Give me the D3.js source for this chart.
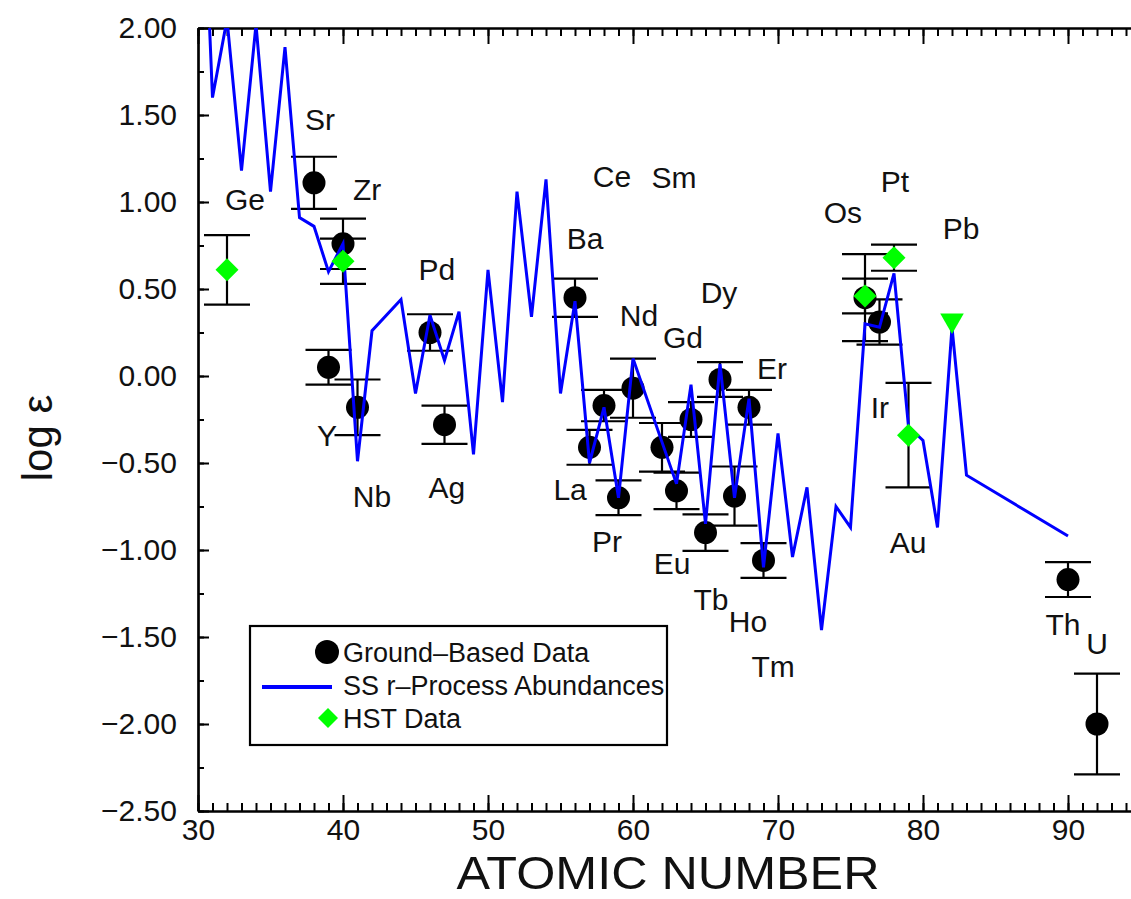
<!DOCTYPE html>
<html>
<head>
<meta charset="utf-8">
<script src="https://cdn.jsdelivr.net/npm/d3@7"></script>
<style>
  html, body { margin: 0; padding: 0; background: #fff; }
  svg { display: block; font-family: "Liberation Sans", Arial, Helvetica, sans-serif; }
</style>
</head>
<body>
<svg id="chart" width="1131" height="899"></svg>
<script>
// ---------- DATA ----------
// Solar-system r-process abundance curve (atomic number, log eps)
const lineZ = [30,31,32,33,34,35,36,37,38,39,40,41,42,
               44,45,46,47,48,49,50,51,52,53,54,55,56,57,58,59,60,
               62,63,64,65,66,67,68,69,70,71,72,73,74,75,76,77,78,79,80,81,82,83,
               90];
const lineV = [3.6,1.60,2.05,1.18,2.02,1.06,1.89,0.91,0.86,0.60,0.76,-0.49,0.26,
               0.44,-0.10,0.35,0.09,0.37,-0.45,0.61,-0.15,1.06,0.34,1.13,-0.10,0.43,-0.50,-0.18,-0.70,0.10,
               -0.38,-0.62,-0.05,-0.85,0.07,-0.70,-0.13,-1.10,-0.33,-1.04,-0.64,-1.46,-0.75,-0.87,0.30,0.28,0.59,-0.29,-0.37,-0.87,0.28,-0.57,
               -0.92];

// Ground-based data
const gbZ   = [38,39,40,41,46,47,56,57,58,59,60,62,63,64,65,66,67,68,69,76,77,90,92];
const gbV   = [1.11,0.05,0.76,-0.18,0.25,-0.28,0.45,-0.41,-0.17,-0.70,-0.07,-0.41,-0.66,-0.25,-0.90,-0.02,-0.69,-0.18,-1.06,0.45,0.31,-1.17,-2.00];
const gbErr = [0.15,0.10,0.145,0.16,0.105,0.11,0.11,0.10,0.09,0.10,0.17,0.14,0.105,0.10,0.105,0.10,0.17,0.10,0.10,0.25,0.13,0.10,0.29];

// HST data
const hstZ   = [32,40,76,78,79];
const hstV   = [0.61,0.66,0.46,0.68,-0.34];
const hstErr = [0.20,0.13,0.10,0.075,0.30];
// HST upper limit (Pb)
const hstLimZ = [82];
const hstLimV = [0.32];

// Element name annotations (position in data coordinates: Z, log eps of text baseline)
const labelText = ["Ge","Sr","Zr","Y","Nb","Pd","Ag","Ce","Sm","Ba","Nd","Gd","Dy","Er","La","Pr","Eu","Tb","Ho","Tm","Os","Pt","Pb","Ir","Au","Th","U"];
const labelZ    = [33.24,38.41,41.66,38.9,42.0,46.48,47.17,58.55,62.83,56.69,60.41,63.45,65.93,69.59,55.66,58.21,62.69,65.38,67.93,69.66,74.48,78.07,82.62,77.03,78.97,89.66,92.0];
const labelV    = [0.954,1.414,1.01,-0.40,-0.75,0.55,-0.70,1.086,1.08,0.73,0.29,0.16,0.42,-0.02,-0.71,-1.01,-1.14,-1.345,-1.47,-1.73,0.88,1.06,0.79,-0.24,-1.02,-1.49,-1.60];

// Axis ticks
const xMajorTicks = [30,40,50,60,70,80,90];
const yMajorTicks = [-2.5,-2,-1.5,-1,-0.5,0,0.5,1,1.5,2];

const legendItems = ["Ground\u2013Based Data","SS r\u2013Process Abundances","HST Data"];

// ---------- CHART ----------
const svg = d3.select("#chart");
svg.append("rect").attr("width",1131).attr("height",899).attr("fill","#fff");

const x = d3.scaleLinear().domain([30,95]).range([198,1140.5]);
const y = d3.scaleLinear().domain([-2.5,2]).range([811,28]);

const FONT = '"Liberation Sans", Arial, Helvetica, sans-serif';

// clip path
svg.append("defs").append("clipPath").attr("id","plotclip")
  .append("rect").attr("x",198).attr("y",28).attr("width",1131-198).attr("height",811-28);

// Axes
function styleAxis(g){
  g.selectAll("path.domain").attr("stroke","#000").attr("stroke-width",2.2);
  g.selectAll(".tick line").attr("stroke","#000").attr("stroke-width",2);
}
// bottom minor
svg.append("g").attr("transform","translate(0,811)")
  .call(d3.axisBottom(x).tickValues(d3.range(30,96,1)).tickSize(-8).tickSizeOuter(0).tickFormat(""))
  .call(styleAxis);
// bottom major
svg.append("g").attr("transform","translate(0,811)")
  .call(d3.axisBottom(x).tickValues(xMajorTicks).tickSize(-16).tickSizeOuter(0).tickPadding(8).tickFormat(d3.format("d")))
  .call(styleAxis)
  .call(g => g.selectAll("text").attr("font-size",30).attr("font-family",FONT).attr("fill","#111"));
// top minor + major
svg.append("g").attr("transform","translate(0,28)")
  .call(d3.axisTop(x).tickValues(d3.range(30,96,1)).tickSize(-8).tickSizeOuter(0).tickFormat(""))
  .call(styleAxis);
svg.append("g").attr("transform","translate(0,28)")
  .call(d3.axisTop(x).tickValues(xMajorTicks).tickSize(-16).tickSizeOuter(0).tickFormat(""))
  .call(styleAxis);
// left minor
svg.append("g").attr("transform","translate(198,0)")
  .call(d3.axisLeft(y).tickValues(d3.range(-2.5,2.01,0.25)).tickSize(-6).tickSizeOuter(0).tickFormat(""))
  .call(styleAxis);
// left major
svg.append("g").attr("transform","translate(198,0)")
  .call(d3.axisLeft(y).tickValues(yMajorTicks).tickSize(-11).tickSizeOuter(0).tickPadding(21).tickFormat(d3.format(".2f")))
  .call(styleAxis)
  .call(g => g.selectAll("text").attr("font-size",30).attr("font-family",FONT).attr("fill","#111"));

// Axis titles
svg.append("text").attr("x",668).attr("y",889).attr("text-anchor","middle")
  .attr("font-size",46).attr("font-family",FONT).attr("fill","#111")
  .attr("textLength",423).attr("lengthAdjust","spacingAndGlyphs")
  .text("ATOMIC NUMBER");
svg.append("text").attr("transform","translate(52,438) rotate(-90)").attr("text-anchor","middle")
  .attr("font-size",42).attr("font-family",FONT).attr("fill","#111").text("log \u03b5");

const capW = 23;
function errorBars(Z, V, E){
  const g = svg.append("g").attr("stroke","#000").attr("stroke-width",2.2).attr("fill","none");
  Z.forEach((z,i)=>{
    const cx = x(z), top = y(V[i]+E[i]), bot = y(V[i]-E[i]);
    g.append("line").attr("x1",cx).attr("x2",cx).attr("y1",top).attr("y2",bot);
    g.append("line").attr("x1",cx-capW).attr("x2",cx+capW).attr("y1",top).attr("y2",top);
    g.append("line").attr("x1",cx-capW).attr("x2",cx+capW).attr("y1",bot).attr("y2",bot);
  });
}
errorBars(gbZ, gbV, gbErr);
errorBars(hstZ, hstV, hstErr);

// Ground-based dots
svg.append("g").selectAll("circle").data(gbZ).join("circle")
  .attr("cx",d=>x(d)).attr("cy",(d,i)=>y(gbV[i])).attr("r",11.5).attr("fill","#000");

// r-process line
const lineData = lineZ.map((z,i)=>[z,lineV[i]]);
svg.append("path").attr("clip-path","url(#plotclip)")
  .attr("d", d3.line().x(d=>x(d[0])).y(d=>y(d[1]))(lineData))
  .attr("fill","none").attr("stroke","#0000ff").attr("stroke-width",3).attr("stroke-linejoin","miter");

// HST diamonds
const diamond = d3.symbol().type(d3.symbolSquare).size(265);
svg.append("g").selectAll("path").data(hstZ).join("path")
  .attr("d",diamond)
  .attr("transform",(d,i)=>`translate(${x(d)},${y(hstV[i])}) rotate(45)`)
  .attr("fill","#00ff00");
// HST upper limit triangle
const tri = d3.symbol().type(d3.symbolTriangle).size(240);
svg.append("g").selectAll("path").data(hstLimZ).join("path")
  .attr("d",tri)
  .attr("transform",(d,i)=>`translate(${x(d)},${y(hstLimV[i])}) rotate(180)`)
  .attr("fill","#00ff00");

// Element labels
svg.append("g").selectAll("text").data(labelText).join("text")
  .attr("x",(d,i)=>x(labelZ[i])).attr("y",(d,i)=>y(labelV[i]))
  .attr("text-anchor","middle").attr("font-size",30).attr("font-family",FONT).attr("fill","#111")
  .text(d=>d);

// Legend
const lg = svg.append("g");
lg.append("rect").attr("x",250).attr("y",626).attr("width",417).attr("height",119)
  .attr("fill","#fff").attr("stroke","#000").attr("stroke-width",2.2);
lg.append("circle").attr("cx",327).attr("cy",652).attr("r",12).attr("fill","#000");
lg.append("line").attr("x1",262).attr("x2",332).attr("y1",687).attr("y2",687)
  .attr("stroke","#0000ff").attr("stroke-width",4);
lg.append("path").attr("d",d3.symbol().type(d3.symbolSquare).size(200))
  .attr("transform","translate(328,718) rotate(45)").attr("fill","#00ff00");
lg.selectAll("text").data(legendItems).join("text")
  .attr("x",343).attr("y",(d,i)=>662+i*33)
  .attr("font-size",27).attr("font-family",FONT).attr("fill","#111")
  .text(d=>d);
</script>
</body>
</html>
